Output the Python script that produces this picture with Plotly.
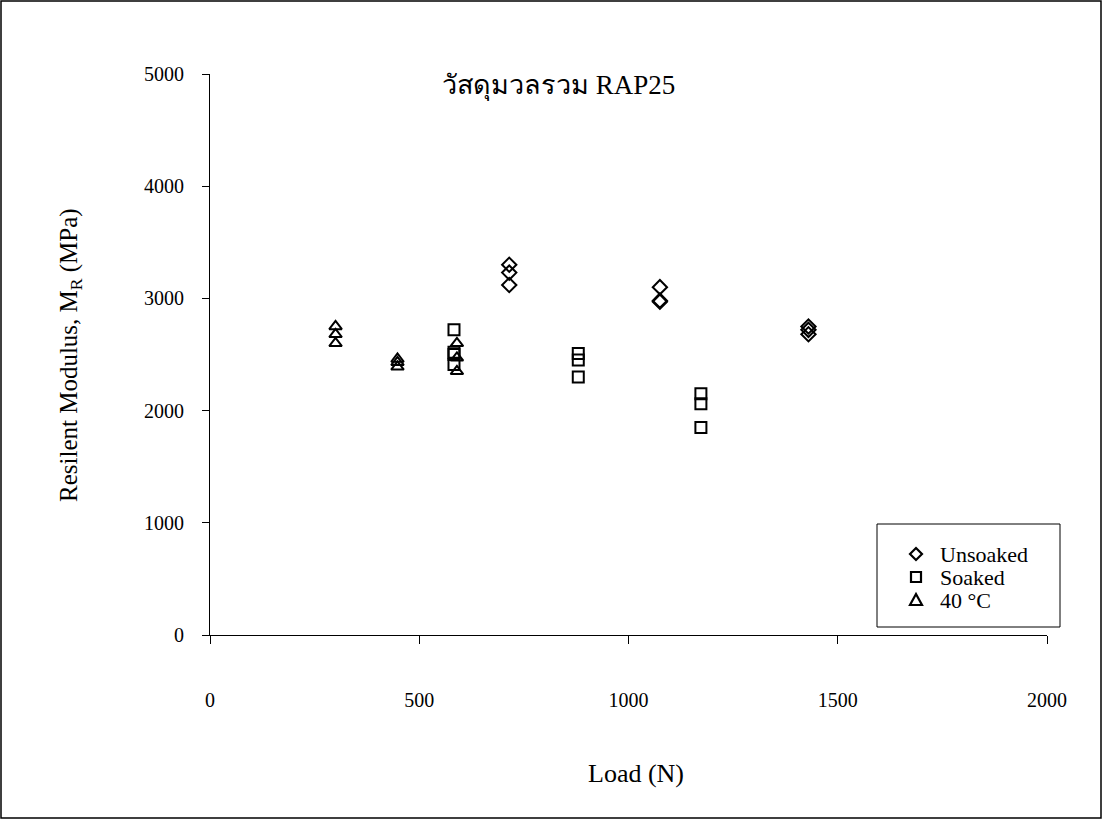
import plotly.graph_objects as go

# Resilient modulus test results, RAP25 aggregate
unsoaked_load = [715, 715, 715, 1075, 1075, 1075, 1430, 1430, 1430]
unsoaked_mr = [3300, 3230, 3120, 3100, 2980, 2970, 2750, 2720, 2680]

soaked_load = [583, 583, 583, 583, 880, 880, 880, 1173, 1173, 1173]
soaked_mr = [2720, 2520, 2500, 2410, 2510, 2450, 2300, 2150, 2060, 1850]

hot_load = [300, 300, 300, 448, 448, 448, 590, 590, 590]
hot_mr = [2750, 2680, 2600, 2460, 2430, 2390, 2600, 2470, 2350]

x_ticks = [0, 500, 1000, 1500, 2000]
y_ticks = [0, 1000, 2000, 3000, 4000, 5000]

series_names = ["Unsoaked", "Soaked", "40 °C"]

FONT = "Liberation Serif, Times New Roman, serif"

# page and plot-area geometry (pixels)
W, H = 1103, 820
L, R, T, B = 210, 56, 74, 185
pw, ph = W - L - R, H - T - B


def px(x):
    return (x - L) / pw


def py(y):
    return (H - B - y) / ph


fig = go.Figure()

symbols = ["diamond-open", "square-open", "triangle-up-open"]
for name, xs, ys, sym in zip(series_names,
                             [unsoaked_load, soaked_load, hot_load],
                             [unsoaked_mr, soaked_mr, hot_mr],
                             symbols):
    fig.add_trace(go.Scatter(
        x=xs, y=ys, mode="markers", name=name, showlegend=False,
        marker=dict(symbol=sym, size=11, color="black",
                    line=dict(color="black", width=2)),
    ))

# legend box drawn by hand: frame, key symbols, labels
key_paths = [
    "M 0,6 L 6,0 L 0,-6 L -6,0 Z",
    "M -5,-5 L 5,-5 L 5,5 L -5,5 Z",
    "M -6,-5 L 6,-5 L 0,6 Z",
]
legend_rows = [554, 577, 600]
shapes = [
    dict(type="rect", xref="paper", yref="paper",
         x0=px(1), x1=px(1101), y0=py(818), y1=py(1),
         line=dict(color="black", width=1.5)),
    dict(type="rect", xref="paper", yref="paper",
         x0=px(877), x1=px(1060), y0=py(627), y1=py(524),
         fillcolor="white", line=dict(color="black", width=1), layer="below"),
]
annotations = []
for path, row, name in zip(key_paths, legend_rows, series_names):
    shapes.append(dict(
        type="path", xref="paper", yref="paper",
        xsizemode="pixel", ysizemode="pixel",
        xanchor=px(916), yanchor=py(row), path=path,
        line=dict(color="black", width=2.2),
    ))
    annotations.append(dict(
        text=name, xref="paper", yref="paper", x=px(938), y=py(row),
        xanchor="left", yanchor="middle", showarrow=False,
        font=dict(family=FONT, size=22),
    ))

annotations += [
    dict(text="วัสดุมวลรวม RAP25", xref="paper", yref="paper",
         x=px(677), y=py(86), xanchor="right", yanchor="middle",
         showarrow=False, font=dict(family=FONT, size=27)),
    dict(text="Resilent Modulus, M<sub>R</sub> (MPa)", xref="paper", yref="paper",
         x=px(70), y=py(355), xanchor="center", yanchor="middle",
         textangle=-90, showarrow=False, font=dict(family=FONT, size=25)),
    dict(text="Load (N)", xref="paper", yref="paper",
         x=px(636), y=py(773), xanchor="center", yanchor="middle",
         showarrow=False, font=dict(family=FONT, size=26)),
]

fig.update_layout(
    width=W, height=H,
    margin=dict(l=L, r=R, t=T, b=B),
    paper_bgcolor="white", plot_bgcolor="white",
    font=dict(family=FONT, size=20, color="black"),
    showlegend=False,
    xaxis=dict(
        range=[0, 2000], tickvals=x_ticks, showgrid=False, zeroline=False,
        showline=True, linecolor="black", linewidth=1,
        ticks="outside", ticklen=8, tickcolor="black",
        ticklabelstandoff=39, tickfont=dict(family=FONT, size=20),
    ),
    yaxis=dict(
        range=[0, 5000], tickvals=y_ticks, showgrid=False, zeroline=False,
        showline=True, linecolor="black", linewidth=1,
        ticks="outside", ticklen=7, tickcolor="black",
        ticklabelstandoff=14, tickfont=dict(family=FONT, size=20),
    ),
    annotations=annotations,
    shapes=shapes,
)

fig.write_html("out.html")
